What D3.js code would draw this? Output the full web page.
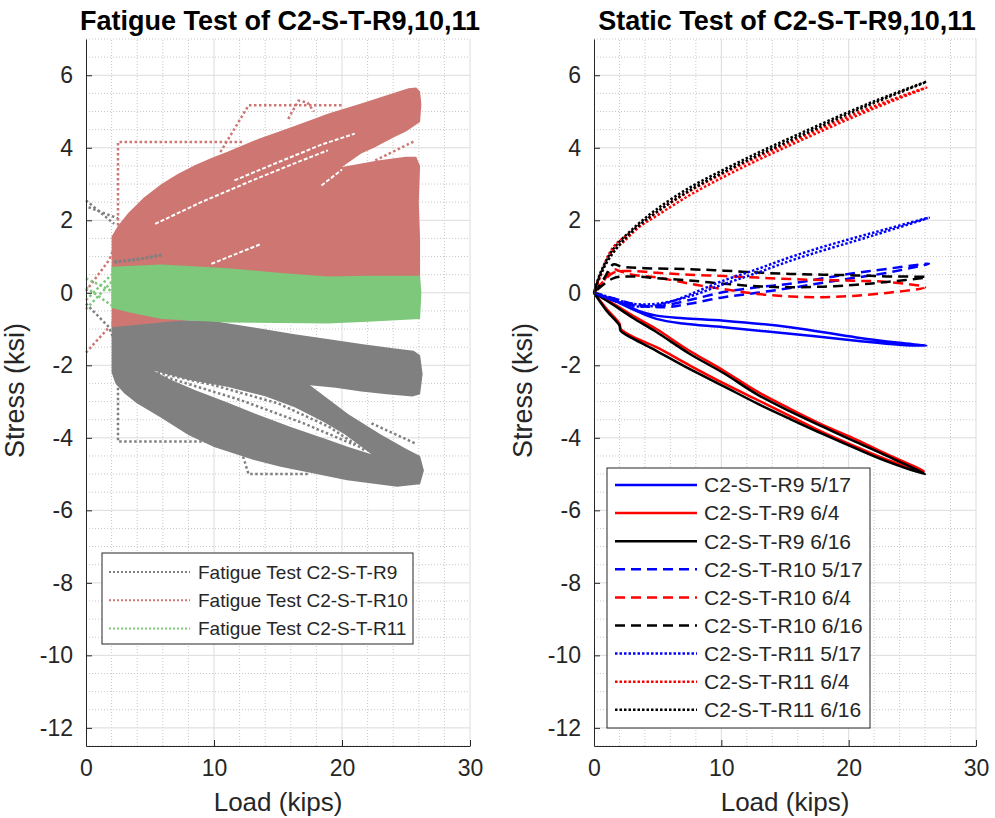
<!DOCTYPE html>
<html><head><meta charset="utf-8">
<script src="https://cdn.jsdelivr.net/npm/d3@7"></script>
<style>
body{margin:0;background:#fff}
svg{display:block}
text{font-family:"Liberation Sans",Arial,Helvetica,sans-serif;fill:#262626}
</style>
</head><body>
<svg id="chart" width="995" height="818"></svg>
<script>
// ---------- ticks ----------
const xTicks = [0, 10, 20, 30];
const yTicks = [-12, -10, -8, -6, -4, -2, 0, 2, 4, 6];
const xMinorTicks = [2, 4, 6, 8, 12, 14, 16, 18, 22, 24, 26, 28];
const yMinorTicks = [-12.5,-11.5,-11,-10.5,-9.5,-9,-8.5,-7.5,-7,-6.5,-5.5,-5,-4.5,-3.5,-3,-2.5,-1.5,-1,-0.5,0.5,1,1.5,2.5,3,3.5,4.5,5,5.5,6.5,7];

// ---------- fatigue test (load kips, stress ksi) ----------
const fatigueLabels = ["Fatigue Test C2-S-T-R9", "Fatigue Test C2-S-T-R10", "Fatigue Test C2-S-T-R11"];
const fatigueColors = ["#808080", "#cd7672", "#7dc87a"];

// R9 envelope of dense cycles (outer outline) and the inner open spindle
const r9Envelope = [[2.0,-0.77],[6,-0.74],[9.8,-0.77],[13,-0.95],[16.3,-1.14],[19,-1.28],[21.5,-1.41],[24,-1.53],[25.6,-1.6],[26.1,-1.72],[26.3,-2.24],[26.1,-2.8],[25.5,-2.86],[23.5,-2.8],[21.5,-2.72],[19.5,-2.62],[17.5,-2.55],[20.5,-3.35],[23,-3.9],[25,-4.3],[26.1,-4.5],[26.4,-4.9],[26.1,-5.28],[24.3,-5.35],[22.8,-5.28],[20.4,-5.17],[18,-5.0],[15.2,-4.8],[13,-4.6],[10,-4.25],[8,-3.92],[5.9,-3.45],[4,-3.05],[3.0,-2.78],[2.3,-2.5],[2.0,-2.2],[2.0,-1.2]];
const r9Spindle = [[5.3,-2.15],[8,-2.4],[11.1,-2.6],[14,-2.85],[16.3,-3.16],[18.5,-3.55],[20.2,-3.9],[22.3,-4.45],[20.5,-4.25],[18.9,-4.05],[16,-3.7],[13.7,-3.4],[11,-3.02],[8.5,-2.68],[6.5,-2.38]];
const r9Dotted = [
  [[0,2.55],[2.2,1.9]],
  [[0.2,2.36],[2.5,2.05]],
  [[0,-0.3],[1.8,-0.95],[2.5,-1.6],[2.5,-2.5],[2.5,-4.1],[11.9,-4.1],[12.7,-5.0],[17.4,-5.0]],
  [[22.3,-3.6],[25.7,-4.15]],
  [[5.6,-2.2],[10,-2.55],[15,-3.05],[19,-3.7],[21.8,-4.35]],
  [[6.2,-2.32],[12,-2.95],[17,-3.6],[21,-4.2]]
];
const r9Streak = [[2.2,0.85],[3.5,0.9],[4.5,0.95],[6,1.05]];

// R10 envelope
const r10Envelope = [[2.0,1.55],[2.5,1.85],[3.3,2.2],[4.5,2.62],[5.9,3.0],[7.2,3.28],[8.5,3.52],[9.8,3.72],[11.1,3.9],[13.5,4.25],[16.3,4.6],[19,4.95],[21.5,5.22],[24.1,5.52],[25.2,5.64],[25.8,5.66],[26.1,5.55],[26.2,5.2],[26.1,4.71],[25,4.45],[24.1,4.3],[22.5,4.0],[21.5,3.84],[20.0,3.47],[22.8,3.65],[25.0,3.75],[25.8,3.75],[26.1,3.5],[26.0,2.5],[26.1,1.5],[26.1,0.4],[20,0.0],[15,-0.3],[8,-0.75],[4,-0.88],[2.0,-0.95]];
const r10Gaps = [
  [[5.4,1.9],[9,2.5],[13,3.1],[16.5,3.6],[18.9,3.93]],
  [[11.6,3.1],[15,3.6],[18.5,4.1],[21.0,4.39]],
  [[9.8,0.8],[13.7,1.35]],
  [[18.4,2.96],[20.0,3.4]]
];
const r10Dotted = [
  [[0,-1.65],[1.8,-0.95]],
  [[0,0.05],[1.8,0.9],[2.5,1.5],[2.5,4.16],[12.3,4.16]],
  [[10.5,3.88],[12.7,5.17],[20.1,5.17]],
  [[15.8,4.8],[16.6,5.3],[17.3,5.25],[17.8,5.0]],
  [[22.6,3.65],[25.7,4.19]]
];

// R11 envelope
const r11Envelope = [[2.0,0.72],[5.9,0.78],[11.1,0.68],[15,0.55],[18.9,0.45],[22,0.47],[26.1,0.47],[26.2,0.0],[26.1,-0.72],[22,-0.8],[18.9,-0.85],[11.1,-0.82],[5.9,-0.72],[3.5,-0.55],[2.0,-0.42]];
const r11Dotted = [
  [[0,0.4],[2,0.05]],
  [[0,-0.2],[2,0.5]],
  [[0,0.15],[2,-0.35]],
  [[0,-0.45],[2,0.3]]
];

// ---------- static test loops (load kips, stress ksi) ----------
const staticLabels = ["C2-S-T-R9 5/17","C2-S-T-R9 6/4","C2-S-T-R9 6/16","C2-S-T-R10 5/17","C2-S-T-R10 6/4","C2-S-T-R10 6/16","C2-S-T-R11 5/17","C2-S-T-R11 6/4","C2-S-T-R11 6/16"];
const staticColors = ["#0000ff","#ff0000","#000000","#0000ff","#ff0000","#000000","#0000ff","#ff0000","#000000"];
const staticDashes = ["none","none","none","10,6","10,6","10,6","2.5,2","2.5,2","2.5,2"];

const r9_0517 = [[0,0],[1,-0.15],[2.3,-0.3],[3.5,-0.5],[4.9,-0.63],[7,-0.7],[10.2,-0.77],[15.4,-0.95],[20.6,-1.23],[24,-1.38],[26.1,-1.46],[24,-1.43],[20.6,-1.32],[15.4,-1.13],[10.2,-0.95],[7,-0.85],[4.9,-0.72],[3,-0.45],[1.5,-0.2],[0,0]];
const r9_0604 = [[0,0],[1,-0.45],[2,-0.85],[2.1,-1.0],[3,-1.2],[4.9,-1.5],[7.5,-2.0],[10.2,-2.5],[12.8,-2.95],[15.4,-3.4],[18,-3.85],[20.6,-4.25],[23,-4.6],[25.9,-4.92],[23,-4.45],[20.6,-4.05],[18,-3.65],[15.4,-3.2],[12.8,-2.72],[10.2,-2.15],[7.5,-1.6],[4.9,-1.0],[3,-0.62],[1.5,-0.3],[0,0]];
const r9_0616 = [[0,0],[1,-0.5],[2,-0.9],[2.1,-1.05],[3,-1.25],[4.9,-1.6],[7.5,-2.1],[10.2,-2.58],[12.8,-3.05],[15.4,-3.48],[18,-3.9],[20.6,-4.3],[23,-4.65],[26,-5.0],[23,-4.5],[20.6,-4.12],[18,-3.7],[15.4,-3.27],[12.8,-2.8],[10.2,-2.22],[7.5,-1.68],[4.9,-1.08],[3,-0.68],[1.5,-0.33],[0,0]];
const r10_0517 = [[0,0],[1,-0.15],[2.5,-0.3],[4,-0.38],[5.5,-0.35],[7.5,-0.2],[10.2,0.02],[12.8,0.15],[15.4,0.25],[18,0.4],[20.6,0.55],[23,0.66],[26.3,0.8],[23,0.55],[20.6,0.42],[18,0.28],[15.4,0.13],[12.8,0.0],[10.2,-0.12],[7.5,-0.3],[5.5,-0.4],[3,-0.3],[1.5,-0.15],[0,0]];
const r10_0604 = [[0,0],[0.8,0.35],[1.5,0.65],[2,0.6],[3,0.5],[5,0.42],[7.5,0.25],[10.2,0.1],[12.8,-0.03],[15.4,-0.1],[18,-0.12],[20.6,-0.08],[23.3,0.01],[26,0.15],[23,0.3],[20.6,0.33],[18,0.35],[15.4,0.38],[12.8,0.42],[10.2,0.46],[7.5,0.5],[5,0.55],[3,0.6],[1.5,0.55],[0,0]];
const r10_0616 = [[0,0],[0.8,0.4],[1.5,0.78],[2.2,0.72],[4,0.68],[7.5,0.65],[10.2,0.61],[12.8,0.56],[15.4,0.52],[18,0.5],[20.6,0.48],[23,0.45],[26.1,0.43],[23,0.3],[20.6,0.22],[18,0.17],[15.4,0.15],[12.8,0.18],[10.2,0.25],[7.5,0.34],[5,0.4],[3,0.45],[1.5,0.4],[0,0]];
const r11_0517 = [[0,0],[1,-0.15],[2.3,-0.3],[3.5,-0.38],[4.9,-0.35],[6,-0.25],[7.5,-0.05],[10.2,0.34],[12.8,0.65],[15.4,0.98],[18,1.27],[20.6,1.53],[23,1.76],[26.3,2.07],[23,1.7],[20.6,1.44],[18,1.17],[15.4,0.88],[12.8,0.55],[10.2,0.24],[7.5,-0.1],[5,-0.3],[3,-0.3],[1.5,-0.15],[0,0]];
const r11_0604 = [[0,0],[0.5,0.45],[1,0.85],[1.5,1.15],[2.3,1.4],[3.5,1.8],[4.9,2.12],[7.5,2.69],[10.2,3.2],[12.8,3.65],[15.4,4.07],[18,4.48],[20.6,4.88],[23,5.23],[26.1,5.66],[23,5.28],[20.6,4.95],[18,4.56],[15.4,4.15],[12.8,3.74],[10.2,3.3],[7.5,2.8],[4.9,2.22],[3,1.7],[1.5,1.25],[0.5,0.5],[0,0]];
const r11_0616 = [[0,0],[0.5,0.5],[1.26,0.98],[2.3,1.44],[3.5,1.85],[4.9,2.22],[7.5,2.82],[10.2,3.33],[12.8,3.78],[15.4,4.2],[18,4.62],[20.6,5.03],[23,5.38],[26.1,5.82],[23,5.42],[20.6,5.08],[18,4.68],[15.4,4.27],[12.8,3.85],[10.2,3.4],[7.5,2.9],[4.9,2.3],[3,1.75],[1.5,1.2],[0.5,0.55],[0,0]];
const staticSeries = [r9_0517, r9_0604, r9_0616, r10_0517, r10_0604, r10_0616, r11_0517, r11_0604, r11_0616];

// ---------- drawing ----------
const svg = d3.select("#chart");
const y = d3.scaleLinear().domain([-12.5, 7]).range([746, 39]);
const xL = d3.scaleLinear().domain([0, 30]).range([86, 470]);
const xR = d3.scaleLinear().domain([0, 30]).range([594, 976]);

function panel(x, title) {
  const g = svg.append("g");
  const [x0, x1] = x.range();
  g.selectAll(".mgx").data(xMinorTicks).join("line")
    .attr("x1", d => x(d)).attr("x2", d => x(d)).attr("y1", y(-12.5)).attr("y2", y(7))
    .attr("stroke", "#c8c8c8").attr("stroke-width", 1).attr("stroke-dasharray", "1,2");
  g.selectAll(".mgy").data(yMinorTicks).join("line")
    .attr("x1", x0).attr("x2", x1).attr("y1", d => y(d)).attr("y2", d => y(d))
    .attr("stroke", "#c8c8c8").attr("stroke-width", 1).attr("stroke-dasharray", "1,2");
  g.selectAll(".Mgx").data(xTicks.slice(1)).join("line")
    .attr("x1", d => x(d)).attr("x2", d => x(d)).attr("y1", y(-12.5)).attr("y2", y(7))
    .attr("stroke", "#dcdcdc").attr("stroke-width", 1);
  g.selectAll(".Mgy").data(yTicks).join("line")
    .attr("x1", x0).attr("x2", x1).attr("y1", d => y(d)).attr("y2", d => y(d))
    .attr("stroke", "#dcdcdc").attr("stroke-width", 1);
  svg.append("text").attr("x", (x0 + x1) / 2 + 2).attr("y", 30).attr("text-anchor", "middle")
    .attr("font-weight", "bold").attr("font-size", 27).style("fill", "#000").text(title);
  return g;
}

function axes(x) {
  const [x0, x1] = x.range();
  const fmt = d => String(d);
  const gx = svg.append("g").attr("transform", `translate(0,${y(-12.5)})`)
    .call(d3.axisBottom(x).tickValues(xTicks).tickFormat(fmt).tickSizeInner(-6).tickSizeOuter(0).tickPadding(14));
  const gy = svg.append("g").attr("transform", `translate(${x0},0)`)
    .call(d3.axisLeft(y).tickValues(yTicks).tickFormat(fmt).tickSizeInner(-6).tickSizeOuter(0).tickPadding(13));
  [gx, gy].forEach(a => {
    a.select(".domain").attr("stroke", "#262626");
    a.selectAll(".tick line").attr("stroke", "#262626");
    a.selectAll(".tick text").attr("font-size", 23).attr("font-family", '"Liberation Sans",Arial,sans-serif').style("fill", "#262626");
  });
  gx.selectAll(".tick text").attr("dy", "0.68em");
  svg.append("text").attr("x", (x0 + x1) / 2).attr("y", 811).attr("text-anchor", "middle")
    .attr("font-size", 26).text("Load (kips)");
  svg.append("text").attr("transform", `translate(${x0 - 62},${(y(7) + y(-12.5)) / 2 - 2}) rotate(-90)`)
    .attr("text-anchor", "middle").attr("font-size", 27).text("Stress (ksi)");
}

// ----- left panel -----
const gL = panel(xL, "Fatigue Test of C2-S-T-R9,10,11");
const lineL = d3.line().x(d => xL(d[0])).y(d => y(d[1]));
const polyL = pts => lineL(pts) + "Z";

// R9 (gray)
gL.append("path").attr("d", polyL(r9Envelope) + polyL(r9Spindle))
  .attr("fill", fatigueColors[0]).attr("fill-rule", "evenodd");
r9Dotted.forEach(p => gL.append("path").attr("d", lineL(p)).attr("fill", "none")
  .attr("stroke", fatigueColors[0]).attr("stroke-width", 2.5).attr("stroke-dasharray", "2.5,2.5"));
// R10 (red)
r10Dotted.forEach(p => gL.append("path").attr("d", lineL(p)).attr("fill", "none")
  .attr("stroke", fatigueColors[1]).attr("stroke-width", 2.5).attr("stroke-dasharray", "2.5,2.5"));
gL.append("path").attr("d", polyL(r10Envelope)).attr("fill", fatigueColors[1]);
r10Gaps.forEach(p => gL.append("path").attr("d", lineL(p)).attr("fill", "none")
  .attr("stroke", "#ffffff").attr("stroke-width", 2).attr("stroke-dasharray", "4,2"));
gL.append("path").attr("d", lineL(r9Streak)).attr("fill", "none")
  .attr("stroke", fatigueColors[0]).attr("stroke-width", 3).attr("stroke-dasharray", "3,1.5");
// R11 (green)
r11Dotted.forEach(p => gL.append("path").attr("d", lineL(p)).attr("fill", "none")
  .attr("stroke", fatigueColors[2]).attr("stroke-width", 2.5).attr("stroke-dasharray", "2.5,2.5"));
gL.append("path").attr("d", polyL(r11Envelope)).attr("fill", fatigueColors[2]);

axes(xL);

// left legend
const legL = svg.append("g");
legL.append("rect").attr("x", 102).attr("y", 553).attr("width", 311).attr("height", 91)
  .attr("fill", "#fff").attr("stroke", "#262626").attr("stroke-width", 1);
fatigueLabels.forEach((t, i) => {
  const cy = 572 + i * 28.3;
  legL.append("line").attr("x1", 109).attr("x2", 190).attr("y1", cy).attr("y2", cy)
    .attr("stroke", fatigueColors[i]).attr("stroke-width", 2).attr("stroke-dasharray", "2,2");
  legL.append("text").attr("x", 198).attr("y", cy).attr("dy", "0.35em").attr("font-size", 19).text(t);
});

// ----- right panel -----
const gR = panel(xR, "Static Test of C2-S-T-R9,10,11");
const lineR = d3.line().x(d => xR(d[0])).y(d => y(d[1])).curve(d3.curveCatmullRom.alpha(0.5));
staticSeries.forEach((s, i) => {
  gR.append("path").attr("d", lineR(s)).attr("fill", "none")
    .attr("stroke", staticColors[i]).attr("stroke-width", 2.5)
    .attr("stroke-dasharray", staticDashes[i]).attr("stroke-linejoin", "round");
});
axes(xR);

// right legend
const legR = svg.append("g");
legR.append("rect").attr("x", 607).attr("y", 468).attr("width", 263).attr("height", 260)
  .attr("fill", "#fff").attr("stroke", "#262626").attr("stroke-width", 1);
staticLabels.forEach((t, i) => {
  const cy = 485 + i * 28.1;
  legR.append("line").attr("x1", 615).attr("x2", 697).attr("y1", cy).attr("y2", cy)
    .attr("stroke", staticColors[i]).attr("stroke-width", 2.5).attr("stroke-dasharray", staticDashes[i]);
  legR.append("text").attr("x", 704).attr("y", cy).attr("dy", "0.35em").attr("font-size", 21).text(t);
});
</script>
</body></html>
